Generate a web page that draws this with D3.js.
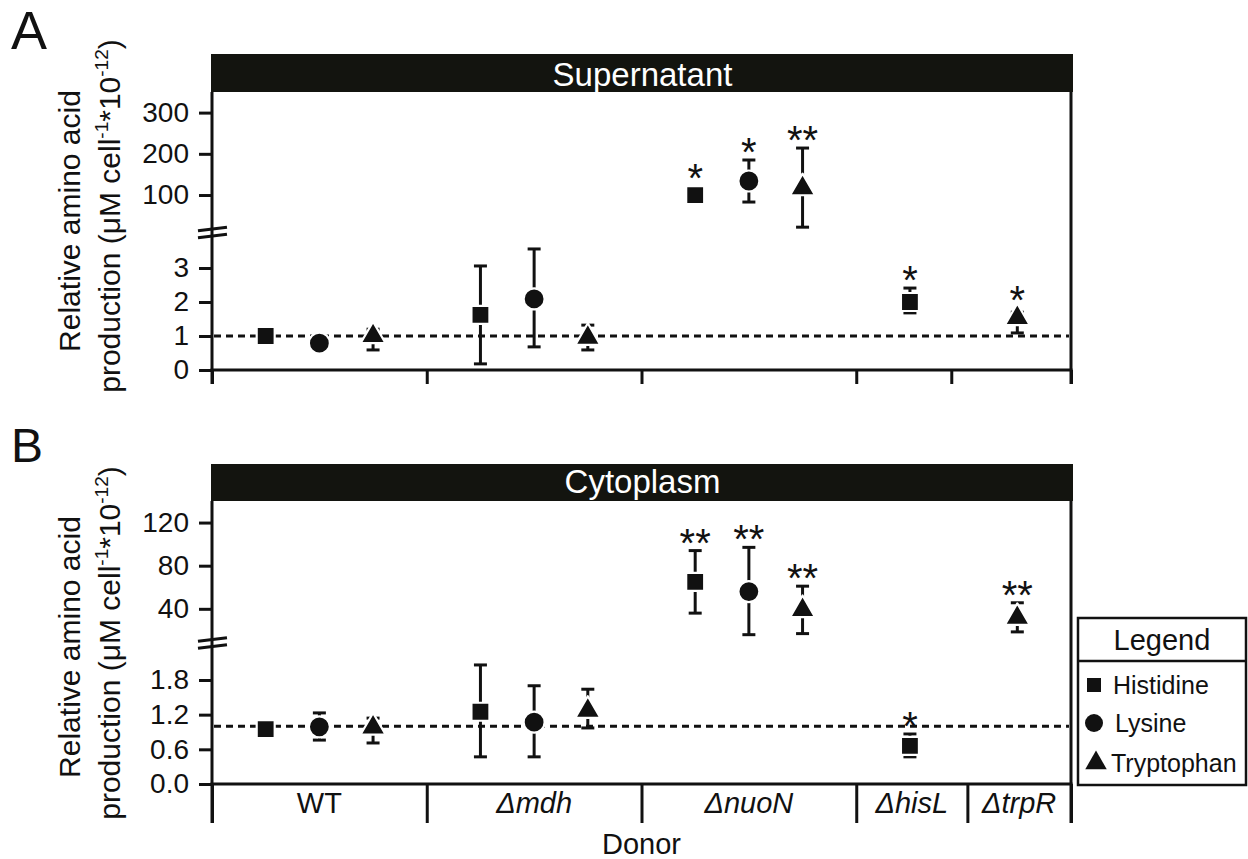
<!DOCTYPE html>
<html>
<head>
<meta charset="utf-8">
<script src="https://cdn.jsdelivr.net/npm/d3@7"></script>
<style>
  html, body { margin: 0; padding: 0; background: #fff; }
  svg { display: block; }
  text { font-family: "Liberation Sans", Arial, sans-serif; fill: #111; }
</style>
</head>
<body>
<svg id="chart" width="1248" height="859"></svg>
<script>
// ---------------- DATA ----------------
const donors = ["WT", "Δmdh", "ΔnuoN", "ΔhisL", "ΔtrpR"];
const donorItalic = [false, true, true, true, true];
const aminoAcids = ["Histidine", "Lysine", "Tryptophan"];

// one entry per plotted point
const pointAmino = ["Histidine", "Lysine", "Tryptophan",
                    "Histidine", "Lysine", "Tryptophan",
                    "Histidine", "Lysine", "Tryptophan",
                    "Histidine", "Tryptophan"];
const pointSlot = [1, 2, 3, 5, 6, 7, 9, 10, 11, 13, 15];
const groupBoundsA = [0, 4, 8, 12, 13.77, 16];
const groupBoundsB = [0, 4, 8, 12, 14.07, 16];

// Panel A: Supernatant
const supMean = [1.0, 0.79, 1.0, 1.62, 2.09, 0.95, 100, 134, 117, 2.0, 1.53];
const supLow  = [0.95, 0.69, 0.59, 0.18, 0.68, 0.59, 92, 83, 22, 1.68, 1.09];
const supHigh = [1.05, 0.89, 1.2, 3.06, 3.56, 1.32, 108, 185, 214, 2.41, 1.7];
const supStars = ["", "", "", "", "", "", "*", "*", "**", "*", "*"];
const supTicksLow = [0, 1, 2, 3];
const supTicksHigh = [100, 200, 300];

// Panel B: Cytoplasm
const cytMean = [0.95, 0.99, 0.98, 1.25, 1.07, 1.27, 65, 56, 39, 0.66, 31.7];
const cytLow  = [0.9, 0.76, 0.71, 0.47, 0.47, 0.97, 36, 16, 17, 0.47, 18.6];
const cytHigh = [1.0, 1.23, 1.14, 2.06, 1.70, 1.64, 94, 97, 61, 0.865, 45.6];
const cytStars = ["", "", "", "", "", "", "**", "**", "**", "*", "**"];
const cytTicksLow = [0.0, 0.6, 1.2, 1.8];
const cytTicksHigh = [40, 80, 120];

const refValue = 1;

// ---------------- LAYOUT ----------------
const svg = d3.select("#chart");
const INK = "#111";
const X0 = 212, X1 = 1071;
const x = d3.scaleLinear().domain([0, 16]).range([X0, X1]);

const panels = [
  {
    letter: "A", letterSize: 54, letterY: 49,
    title: "Supernatant", stripTop: 54, stripBottom: 92, titleY: 86,
    mean: supMean, low: supLow, high: supHigh, stars: supStars,
    lowScale: d3.scaleLinear().domain([0, 3.9]).range([370, 237.4]),
    highScale: d3.scaleLinear().domain([20, 350]).range([228, 92]),
    breakVal: 10, breakY: 232.5,
    ticksLow: supTicksLow, ticksHigh: supTicksHigh, fmtLow: d3.format("d"),
    bounds: groupBoundsA, tickLen: 14, showLabels: false,
    yTitleC1: 221, yTitleC2: 216
  },
  {
    letter: "B", letterSize: 48, letterY: 462,
    title: "Cytoplasm", stripTop: 464, stripBottom: 501, titleY: 493,
    mean: cytMean, low: cytLow, high: cytHigh, stars: cytStars,
    lowScale: d3.scaleLinear().domain([0, 2.4]).range([784, 645.3]),
    highScale: d3.scaleLinear().domain([12, 140]).range([639, 501]),
    breakVal: 5, breakY: 643,
    ticksLow: cytTicksLow, ticksHigh: cytTicksHigh, fmtLow: d3.format(".1f"),
    bounds: groupBoundsB, tickLen: 39, showLabels: true,
    yTitleC1: 647, yTitleC2: 643
  }
];

const symbolFor = {
  "Histidine": d3.symbol().type(d3.symbolSquare).size(324),
  "Lysine": d3.symbol().type(d3.symbolCircle).size(346),
  "Tryptophan": d3.symbol().type(d3.symbolTriangle).size(270)
};
const halfHeight = { "Histidine": 9, "Lysine": 10.5, "Tryptophan": 14.4 };

panels.forEach(p => {
  const g = svg.append("g");
  const y = v => v > p.breakVal ? p.highScale(v) : p.lowScale(v);
  const yBase = p.lowScale(0);

  // panel letter
  g.append("text").attr("x", 11).attr("y", p.letterY)
    .attr("font-size", p.letterSize).text(p.letter);

  // strip
  g.append("rect").attr("x", X0 - 1).attr("y", p.stripTop)
    .attr("width", X1 - X0 + 3).attr("height", p.stripBottom - p.stripTop)
    .attr("fill", "#13140f");
  g.append("text").attr("x", (X0 + X1) / 2 + 1).attr("y", p.titleY)
    .attr("text-anchor", "middle").attr("font-size", 33)
    .style("fill", "#fff").text(p.title);

  // reference dashed line
  g.append("line").attr("x1", X0 + 2).attr("x2", X1 - 2)
    .attr("y1", y(refValue)).attr("y2", y(refValue))
    .attr("stroke", INK).attr("stroke-width", 3).attr("stroke-dasharray", "7,5");

  // left and right axis lines
  [X0, X1].forEach(xx => {
    g.append("line").attr("x1", xx).attr("x2", xx)
      .attr("y1", p.stripBottom).attr("y2", yBase + p.tickLen)
      .attr("stroke", INK).attr("stroke-width", 3);
  });
  // bottom axis line
  g.append("line").attr("x1", X0 - 1.5).attr("x2", X1 + 1.5)
    .attr("y1", yBase).attr("y2", yBase)
    .attr("stroke", INK).attr("stroke-width", 3);

  // bottom group ticks
  const bx = g.append("g").attr("transform", `translate(0,${yBase})`)
    .call(d3.axisBottom(x).tickValues(p.bounds).tickSize(p.tickLen).tickFormat(""));
  bx.select(".domain").remove();
  bx.selectAll(".tick line").attr("stroke", INK).attr("stroke-width", 3);

  // y axes (two segments)
  const styleAxis = sel => {
    sel.select(".domain").remove();
    sel.selectAll(".tick line").attr("stroke", INK).attr("stroke-width", 3);
    sel.selectAll(".tick text").attr("font-size", 28)
      .style("font-family", '"Liberation Sans", Arial, sans-serif').style("fill", INK);
  };
  g.append("g").attr("transform", `translate(${X0},0)`)
    .call(d3.axisLeft(p.lowScale).tickValues(p.ticksLow).tickFormat(p.fmtLow)
      .tickSize(13).tickPadding(10)).call(styleAxis);
  g.append("g").attr("transform", `translate(${X0},0)`)
    .call(d3.axisLeft(p.highScale).tickValues(p.ticksHigh).tickFormat(d3.format("d"))
      .tickSize(13).tickPadding(10)).call(styleAxis);

  // axis break marks
  [-3.5, 3.5].forEach(off => {
    g.append("line")
      .attr("x1", X0 - 14).attr("y1", p.breakY + off + 1.8)
      .attr("x2", X0 + 15).attr("y2", p.breakY + off - 1.8)
      .attr("stroke", INK).attr("stroke-width", 3);
  });

  // error bars
  const capW = 13;
  pointSlot.forEach((s, i) => {
    const cx = x(s);
    const yl = y(p.low[i]), yh = y(p.high[i]);
    g.append("line").attr("x1", cx).attr("x2", cx).attr("y1", yl).attr("y2", yh)
      .attr("stroke", INK).attr("stroke-width", 3);
    [yl, yh].forEach(yy => {
      g.append("line").attr("x1", cx - capW / 2).attr("x2", cx + capW / 2)
        .attr("y1", yy).attr("y2", yy).attr("stroke", INK).attr("stroke-width", 3);
    });
  });

  // markers
  pointSlot.forEach((s, i) => {
    g.append("path").attr("d", symbolFor[pointAmino[i]]())
      .attr("transform", `translate(${x(s)},${y(p.mean[i])})`)
      .attr("fill", INK).attr("stroke", "#fff").attr("stroke-width", 2.2)
      .attr("stroke-linejoin", "round");
  });

  // significance stars
  pointSlot.forEach((s, i) => {
    if (!p.stars[i]) return;
    const amino = pointAmino[i];
    const top = Math.min(y(p.high[i]),
      y(p.mean[i]) - (amino === "Tryptophan" ? 9.6 : halfHeight[amino]));
    const center = top - 16;
    g.append("text").attr("x", x(s)).attr("y", center + 22)
      .attr("text-anchor", "middle").attr("font-size", 40).text(p.stars[i]);
  });

  // group labels
  if (p.showLabels) {
    donors.forEach((d, k) => {
      const mid = (x(p.bounds[k]) + x(p.bounds[k + 1])) / 2;
      g.append("text").attr("x", mid).attr("y", 813)
        .attr("text-anchor", "middle").attr("font-size", 29)
        .attr("font-style", donorItalic[k] ? "italic" : "normal").text(d);
    });
    g.append("text").attr("x", (X0 + X1) / 2).attr("y", 854)
      .attr("text-anchor", "middle").attr("font-size", 29).text("Donor");
  }

  // y title
  g.append("text").attr("transform", `translate(80,${p.yTitleC1}) rotate(-90)`)
    .attr("text-anchor", "middle").attr("font-size", 30).text("Relative amino acid");
  const t2 = g.append("text").attr("transform", `translate(120,${p.yTitleC2}) rotate(-90)`)
    .attr("text-anchor", "middle").attr("font-size", 30);
  t2.append("tspan").text("production (μM cell");
  t2.append("tspan").attr("font-size", 19).attr("dy", -12).text("-1");
  t2.append("tspan").attr("dy", 12).text("*10");
  t2.append("tspan").attr("font-size", 19).attr("dy", -12).text("-12");
  t2.append("tspan").attr("dy", 12).text(")");
});

// ---------------- LEGEND ----------------
const lg = svg.append("g");
lg.append("rect").attr("x", 1078).attr("y", 618).attr("width", 168).attr("height", 167)
  .attr("fill", "#fff").attr("stroke", INK).attr("stroke-width", 2.5);
lg.append("line").attr("x1", 1078).attr("x2", 1246).attr("y1", 661).attr("y2", 661)
  .attr("stroke", INK).attr("stroke-width", 2.5);
lg.append("text").attr("x", 1162).attr("y", 650).attr("text-anchor", "middle")
  .attr("font-size", 29).text("Legend");
const legendSymbols = {
  "Histidine": d3.symbol().type(d3.symbolSquare).size(196),
  "Lysine": d3.symbol().type(d3.symbolCircle).size(254),
  "Tryptophan": d3.symbol().type(d3.symbolTriangle).size(200)
};
const legendY = [685, 723, 763];
const legendTextX = [1113, 1115, 1111];
aminoAcids.forEach((a, k) => {
  lg.append("path").attr("d", legendSymbols[a]())
    .attr("transform", `translate(${a === "Tryptophan" ? 1096 : 1094},${legendY[k]})`)
    .attr("fill", INK);
  lg.append("text").attr("x", legendTextX[k]).attr("y", legendY[k] + 9)
    .attr("font-size", 25).text(a);
});
</script>
</body>
</html>
